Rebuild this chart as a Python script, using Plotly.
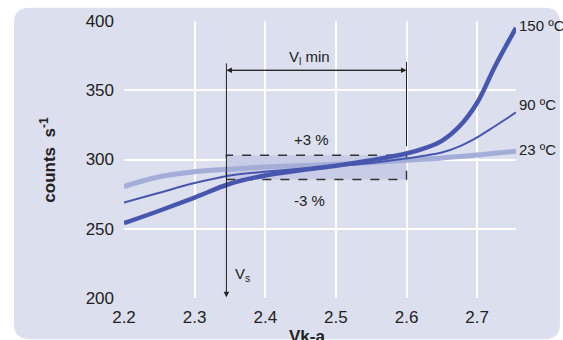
import plotly.graph_objects as go

# ---- data ----
x_vals = [2.2, 2.25, 2.3, 2.35, 2.4, 2.45, 2.5, 2.55, 2.6, 2.625, 2.65, 2.675, 2.7, 2.725, 2.755]
y_150 = [254, 263, 272.5, 282.5, 288.5, 292.3, 295.5, 299.5, 304.3, 308, 313.5, 324, 341, 367, 395]
y_90 = [269, 276, 283, 288.5, 291.2, 293.3, 295.3, 297.5, 300.8, 302.7, 305, 309.5, 316, 324, 334]
y_23 = [280.5, 287.5, 291.2, 293, 294.6, 295.6, 296.6, 297.8, 299.5, 300.3, 301.1, 302.2, 303.2, 304.5, 306]
series_names = ["150 ºC", "90 ºC", "23 ºC"]
label_y = [396.6, 340, 307]
x_ticks = [2.2, 2.3, 2.4, 2.5, 2.6, 2.7]
y_ticks = [200, 250, 300, 350, 400]
vs_x = 2.345
vlmin_x = 2.6
box_center = 294.3
tol = 0.03

FONT = "Liberation Sans, Arial, sans-serif"
C_DARK = "#4757ae"
C_LIGHT = "#a4acd8"
OUTER = "#dcdfee"
PLOT_BG = "#e9ebf5"
TXT = "#222222"

fig = go.Figure()
fig.add_trace(go.Scatter(x=x_vals, y=y_23, mode="lines", line=dict(color=C_LIGHT, width=5, shape="spline"),
                         name=series_names[2], showlegend=False, cliponaxis=False))
fig.add_trace(go.Scatter(x=x_vals, y=y_90, mode="lines", line=dict(color=C_DARK, width=2, shape="spline"),
                         name=series_names[1], showlegend=False, cliponaxis=False))
fig.add_trace(go.Scatter(x=x_vals, y=y_150, mode="lines", line=dict(color=C_DARK, width=4.5, shape="spline"),
                         name=series_names[0], showlegend=False, cliponaxis=False))

# outer rounded background (paper coords)
L, R, T, B = -0.2806, 1.112, 1.048, -0.1487
rx, ry = 0.04, 0.054
path = (f"M {L+rx},{T} L {R-rx},{T} Q {R},{T} {R},{T-ry} L {R},{B+ry} Q {R},{B} {R-rx},{B} "
        f"L {L+rx},{B} Q {L},{B} {L},{B+ry} L {L},{T-ry} Q {L},{T} {L+rx},{T} Z")
fig.add_shape(type="path", path=path, xref="paper", yref="paper", fillcolor=OUTER,
              line=dict(width=0), layer="below")

# tolerance box
top = box_center * (1 + tol)
bot = box_center * (1 - tol)
fig.add_shape(type="rect", x0=vs_x, x1=vlmin_x, y0=bot, y1=top, xref="x", yref="y",
              fillcolor="#c8cce6", line=dict(color="#333333", width=1.5, dash="dash"), layer="between")

# vertical lines
fig.add_shape(type="line", x0=vlmin_x, x1=vlmin_x, y0=370.5, y1=309.5, xref="x", yref="y",
              line=dict(color=TXT, width=1), layer="above")
fig.add_annotation(x=vs_x, y=200.5, ax=vs_x, ay=370.5, xref="x", yref="y", axref="x", ayref="y",
                   text="", showarrow=True, arrowhead=2, arrowsize=1.1, arrowwidth=1, arrowcolor=TXT)
# horizontal double arrow
fig.add_annotation(x=vlmin_x, y=364.4, ax=vs_x, ay=364.4, xref="x", yref="y", axref="x", ayref="y",
                   text="", showarrow=True, arrowhead=2, arrowsize=1.1, arrowwidth=1, arrowcolor=TXT)
fig.add_annotation(x=vs_x, y=364.4, ax=vlmin_x, ay=364.4, xref="x", yref="y", axref="x", ayref="y",
                   text="", showarrow=True, arrowhead=2, arrowsize=1.1, arrowwidth=1, arrowcolor=TXT)

tf = dict(family=FONT, size=15, color=TXT)
fig.add_annotation(x=2.462, y=373.5, text="V<sub>l</sub> min", showarrow=False, font=tf, xref="x", yref="y")
fig.add_annotation(x=2.465, y=314.6, text="+3 %", showarrow=False, font=tf, xref="x", yref="y")
fig.add_annotation(x=2.462, y=270.5, text="-3 %", showarrow=False, font=tf, xref="x", yref="y")
fig.add_annotation(x=2.355, y=217, text="V<sub>s</sub>", showarrow=False, font=tf, xref="x", yref="y",
                   xanchor="left")

# curve labels
for name, ly in zip(series_names, label_y):
    fig.add_annotation(x=2.755, y=ly, text=name, showarrow=False, font=tf,
                       xanchor="left", xshift=1, xref="x", yref="y")

# axis titles
fig.add_annotation(x=-0.196, y=0.5, xref="paper", yref="paper", text="<b>counts  s<sup>-1</sup></b>",
                   textangle=-90, showarrow=False, xanchor="center", yanchor="middle",
                   font=dict(family=FONT, size=17, color=TXT))
fig.add_annotation(x=0.466, y=-0.138, xref="paper", yref="paper", text="<b>Vk-a</b>",
                   showarrow=False, xanchor="center", yanchor="middle",
                   font=dict(family=FONT, size=17, color=TXT))

fig.update_xaxes(range=[2.2, 2.755], tickvals=x_ticks, ticktext=[f"{v:.1f}" for v in x_ticks],
                 showgrid=True, gridcolor="white", gridwidth=1.5, zeroline=False, showline=False,
                 ticks="", ticklabelstandoff=7, tickfont=dict(family=FONT, size=17, color=TXT))
fig.update_yaxes(range=[200, 400], tickvals=y_ticks, showgrid=True, gridcolor="white", gridwidth=1.5,
                 zeroline=False, showline=False, ticks="", ticklabelstandoff=9,
                 tickfont=dict(family=FONT, size=17, color=TXT))

fig.update_layout(width=563, height=340, margin=dict(l=124, r=47, t=18, b=42, pad=0),
                  paper_bgcolor="white", plot_bgcolor=PLOT_BG, showlegend=False)

fig.write_html("out.html")
